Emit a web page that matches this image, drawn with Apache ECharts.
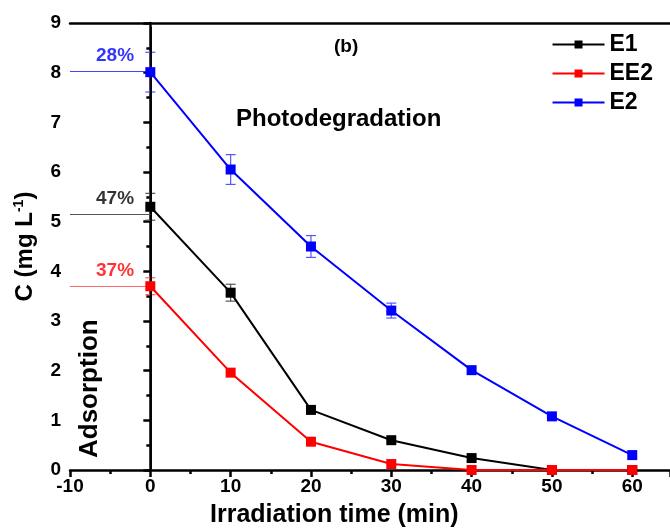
<!DOCTYPE html>
<html>
<head>
<meta charset="utf-8">
<script src="https://cdn.jsdelivr.net/npm/echarts@6/dist/echarts.min.js"></script>
<style>html,body{margin:0;padding:0;background:#fff}#main{width:670px;height:532px}</style>
</head>
<body>
<div id="main"></div>
<script>
var times = [0, 10, 20, 30, 40, 50, 60];
var e1 = [5.30, 3.57, 1.21, 0.60, 0.24, 0, 0];
var ee2 = [3.70, 1.96, 0.57, 0.12, 0, 0, 0];
var e2 = [8.01, 6.05, 4.50, 3.21, 2.01, 1.08, 0.30];
var e1Err = [0.27, 0.17, 0, 0, 0, 0, 0];
var ee2Err = [0.17, 0, 0, 0, 0, 0, 0];
var e2Err = [0.40, 0.30, 0.22, 0.15, 0, 0, 0];
var adsorbLevel = [8.02, 5.15, 3.70];
var adsorbText = ['28%', '47%', '37%'];
var names = ['E1', 'EE2', 'E2'];
var colors = ['#000000', '#ff0000', '#0000ff'];
var errColors = ['#555555', '#ff5555', '#5555ff'];
var levelColors = ['#4444ff', '#555555', '#ff6666'];
var labelColors = ['#0000ff', '#000000', '#ff0000'];

var chart = echarts.init(document.getElementById('main'));
var font = 'Liberation Sans, Arial, sans-serif';

function pairs(v) {
  return times.map(function (t, i) { return [t, v[i]]; });
}
function errData(v, err) {
  var out = [];
  times.forEach(function (t, i) { if (err[i] > 0) out.push([t, v[i] - err[i], v[i] + err[i]]); });
  return out;
}
function errSeries(v, err, c) {
  return {
    type: 'custom',
    data: errData(v, err),
    z: 3,
    silent: true,
    renderItem: function (params, api) {
      var lo = api.coord([api.value(0), api.value(1)]);
      var hi = api.coord([api.value(0), api.value(2)]);
      var w = 5;
      var st = { stroke: c, lineWidth: 1.2 };
      return {
        type: 'group',
        children: [
          { type: 'line', shape: { x1: lo[0], y1: lo[1], x2: hi[0], y2: hi[1] }, style: st },
          { type: 'line', shape: { x1: lo[0] - w, y1: lo[1], x2: lo[0] + w, y2: lo[1] }, style: st },
          { type: 'line', shape: { x1: hi[0] - w, y1: hi[1], x2: hi[0] + w, y2: hi[1] }, style: st }
        ]
      };
    }
  };
}

var dataSets = [e1, ee2, e2];
var errSets = [e1Err, ee2Err, e2Err];
var series = [];
dataSets.forEach(function (v, k) {
  series.push({
    name: names[k],
    type: 'line',
    data: pairs(v),
    symbol: 'rect',
    symbolSize: 10,
    z: 5,
    itemStyle: { color: colors[k] },
    lineStyle: { color: colors[k], width: 2 }
  });
});
dataSets.forEach(function (v, k) { series.push(errSeries(v, errSets[k], errColors[k])); });

// reference lines: vertical at t=0 and adsorption levels
series.push({
  type: 'line',
  data: [],
  markLine: {
    silent: true,
    symbol: 'none',
    label: { show: false },
    data: [
      [{ coord: [0, 0.02], lineStyle: { color: '#000', width: 1.8, type: 'solid' } }, { coord: [0, 8.92] }]
    ].concat(adsorbLevel.map(function (y, i) {
      return [{ coord: [-10, y], lineStyle: { color: levelColors[i], width: 1, type: 'solid' } }, { coord: [0, y] }];
    }))
  }
});
// percentage labels
series.push({
  type: 'scatter',
  symbolSize: 0,
  z: 6,
  data: adsorbLevel.map(function (y, i) {
    return {
      value: [-1.4, y],
      label: {
        show: true, position: 'insideBottomRight', formatter: adsorbText[i],
        color: labelColors[i], fontSize: 19, fontWeight: 'bold', fontFamily: font,
        align: 'right', verticalAlign: 'bottom', offset: [0, -1]
      }
    };
  })
});

var axisFont = { fontSize: 19, fontWeight: 'bold', color: '#000', fontFamily: font };

var option = {
  animation: false,
  backgroundColor: '#fff',
  grid: { left: 70, right: 0, top: 23, bottom: 62, containLabel: false, outerBoundsMode: 'none' },
  legend: {
    data: names,
    orient: 'vertical',
    right: 12,
    top: 28,
    itemWidth: 52,
    itemHeight: 10,
    itemGap: 6,
    textStyle: { fontSize: 23, fontWeight: 'bold', color: '#000', fontFamily: font }
  },
  xAxis: [{
    type: 'value',
    min: -10,
    max: 64.7,
    interval: 10,
    axisLine: { show: true, lineStyle: { color: '#000', width: 2.5 } },
    axisTick: { show: true, length: 7, lineStyle: { width: 2.5, color: '#000' } },
    minorTick: { show: true, splitNumber: 2, length: 4, lineStyle: { width: 2.5, color: '#000' } },
    splitLine: { show: false },
    axisLabel: Object.assign({ margin: 7, showMaxLabel: false,
      formatter: function (v) { return v > 60 ? '' : String(v); } }, axisFont)
  }, {
    type: 'value',
    position: 'top',
    min: -10,
    max: 64.7,
    axisLine: { show: true, lineStyle: { color: '#000', width: 2.5 } },
    axisTick: { show: false },
    axisLabel: { show: false },
    splitLine: { show: false }
  }],
  yAxis: {
    type: 'value',
    min: 0,
    max: 9,
    interval: 1,
    name: 'C (mg L{sup|-1})',
    nameLocation: 'middle',
    nameGap: 32,
    nameTextStyle: {
      fontSize: 24, fontWeight: 'bold', color: '#000', fontFamily: font,
      rich: { sup: { fontSize: 14, fontWeight: 'bold', verticalAlign: 'top', padding: [0, 0, 12, 0], fontFamily: font } }
    },
    axisLine: { show: true, lineStyle: { color: '#000', width: 2.5 } },
    axisTick: { show: true, length: 7, lineStyle: { width: 2.5, color: '#000' } },
    minorTick: { show: true, splitNumber: 2, length: 4, lineStyle: { width: 2.5, color: '#000' } },
    splitLine: { show: false },
    axisLabel: Object.assign({ margin: 9 }, axisFont)
  },
  graphic: [
    { type: 'text', left: 334, top: 37, style: { text: '(b)', fill: '#000', font: 'bold 19px Liberation Sans, Arial' } },
    { type: 'text', left: 236, top: 107, style: { text: 'Photodegradation', fill: '#000', font: 'bold 24px Liberation Sans, Arial' } },
    { type: 'text', x: 77, y: 458, rotation: Math.PI / 2, style: { text: 'Adsorption', fill: '#000', font: 'bold 26px Liberation Sans, Arial' } },
    { type: 'text', left: 210, top: 503, style: { text: 'Irradiation time (min)', fill: '#000', font: 'bold 25px Liberation Sans, Arial' } }
  ],
  series: series
};
chart.setOption(option);
</script>
</body>
</html>
